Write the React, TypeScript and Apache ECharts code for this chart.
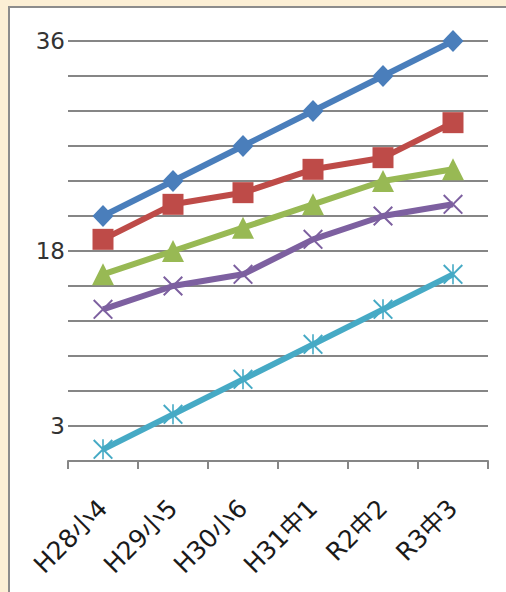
import React, { useEffect, useRef } from "react";
import * as echarts from "echarts";

const categories = ["H28小4", "H29小5", "H30小6", "H31中1", "R2中2", "R3中3"];
const seriesBlue = [21, 24, 27, 30, 33, 36];
const seriesRed = [19, 22, 23, 25, 26, 29];
const seriesGreen = [16, 18, 20, 22, 24, 25];
const seriesPurple = [13, 15, 16, 19, 21, 22];
const seriesAqua = [1, 4, 7, 10, 13, 16];
const yTickLabels = [3, 18, 36];

const X_PATH = "path://M0,1.4 L1.4,0 L10,8.6 L18.6,0 L20,1.4 L11.4,10 L20,18.6 L18.6,20 L10,11.4 L1.4,20 L0,18.6 L8.6,10 Z";
const STAR_PATH = "path://M0,1.4 L1.4,0 L10,8.6 L18.6,0 L20,1.4 L11.4,10 L20,18.6 L18.6,20 L10,11.4 L1.4,20 L0,18.6 L8.6,10 Z M9.2,0 L10.8,0 L10.8,20 L9.2,20 Z";

export default function App() {
  const ref = useRef<HTMLDivElement>(null);
  useEffect(() => {
    if (!ref.current) return;
    const chart = echarts.init(ref.current, null, { renderer: "svg" });
    const mk = (name: string, data: number[], color: string, symbol: string, size: any) => ({
      name,
      type: "line",
      data,
      symbol,
      symbolSize: size,
      lineStyle: { color, width: 6 },
      itemStyle: { color },
      z: 3,
    });
    chart.setOption({
      animation: false,
      grid: { left: 68, right: 18, top: 41, bottom: 131, containLabel: false },
      xAxis: {
        type: "category",
        data: categories,
        boundaryGap: true,
        axisLine: { lineStyle: { color: "#868686", width: 2 } },
        axisTick: { show: true, length: 8, lineStyle: { color: "#868686", width: 2 } },
        axisLabel: {
          rotate: 45,
          margin: 43,
          fontSize: 25,
          color: "#1a1a1a",
          fontFamily: "'DejaVu Sans', 'Noto Sans CJK JP', sans-serif",
        },
        splitLine: { show: false },
      },
      yAxis: {
        type: "value",
        min: 0,
        max: 36,
        interval: 3,
        axisLine: { show: false },
        axisTick: { show: false },
        axisLabel: {
          fontSize: 23,
          color: "#333",
          margin: 3,
          fontFamily: "'DejaVu Sans', sans-serif",
          formatter: (v: number) => (yTickLabels.includes(v) ? String(v) : ""),
        },
        splitLine: { show: true, lineStyle: { color: "#868686", width: 2 } },
      },
      series: [
        mk("blue", seriesBlue, "#4A7EBB", "diamond", [21, 22]),
        mk("red", seriesRed, "#BE4B48", "rect", 21),
        mk("green", seriesGreen, "#98B954", "triangle", 22),
        mk("purple", seriesPurple, "#7D60A0", X_PATH, 20),
        mk("aqua", seriesAqua, "#46AAC5", STAR_PATH, 20),
      ],
    });
    return () => chart.dispose();
  }, []);
  return (
    <div style={{ position: "fixed", left: 0, top: 0, width: 506, height: 592, background: "#FCEFD5", overflow: "hidden" }}>
      <div
        style={{
          position: "absolute",
          left: 8,
          top: 6,
          width: 520,
          height: 610,
          background: "#FFFFFF",
          border: "2px solid #8C8C8C",
        }}
      />
      <div ref={ref} style={{ position: "absolute", left: 0, top: 0, width: 506, height: 592 }} />
    </div>
  );
}
